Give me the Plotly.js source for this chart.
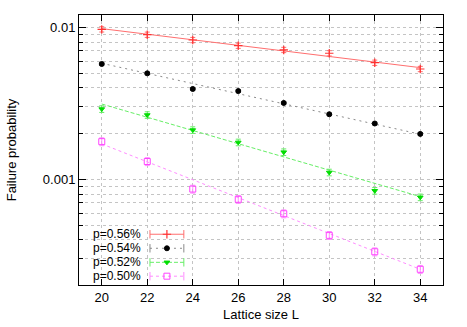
<!DOCTYPE html>
<html>
<head>
<meta charset="utf-8">
<script src="https://cdn.plot.ly/plotly-3.0.1.min.js"></script>
<style>html,body{margin:0;padding:0;background:#fff}#chart{width:467px;height:327px}</style>
</head>
<body>
<div id="chart"></div>
<script>
// ---- data ----
const latticeL = [20, 22, 24, 26, 28, 30, 32, 34];
const seriesNames = ['p=0.56%', 'p=0.54%', 'p=0.52%', 'p=0.50%'];
const p056 = [0.0097, 0.00894, 0.00825, 0.00757, 0.0071, 0.00675, 0.00585, 0.00532];
const p054 = [0.00574, 0.00498, 0.00393, 0.00381, 0.00318, 0.00268, 0.00233, 0.00199];
const p052 = [0.0029, 0.00265, 0.00211, 0.00175, 0.00151, 0.00111, 0.000841, 0.000762];
const p050 = [0.00177, 0.00131, 0.000863, 0.000739, 0.000594, 0.000428, 0.000334, 0.000256];
const errPct = [4, 2, 5, 6];
// fitted line values at L=20 and L=34
const fitStart = [0.0098, 0.0058, 0.00313, 0.00171];
const fitEnd = [0.00543, 0.00198, 0.00077, 0.000256];
const xTicks = [20, 22, 24, 26, 28, 30, 32, 34];
const yMajor = [0.001, 0.01];
const yMinor = [0.0003, 0.0004, 0.0005, 0.0006, 0.0007, 0.0008, 0.0009,
                0.002, 0.003, 0.004, 0.005, 0.006, 0.007, 0.008, 0.009];

// ---- styles ----
const allY = [p056, p054, p052, p050];
const markerColor = ['#ff3030', '#000000', '#00dd00', '#ff44ff'];
const lineColor = ['rgb(255,110,110)', '#8a8a8a', '#66ee66', '#ff8cff'];
const lineDash = ['solid', '2px,4px', '4px,2px', 'dot'];
const symbols = ['cross-thin-open', 'circle', 'triangle-down', 'square-open'];
const msize = [6, 5, 5, 6];
const mlw = [1.2, 1, 1, 1];

const traces = [];
allY.forEach((ys, i) => {
  traces.push({
    x: [latticeL[0], latticeL[latticeL.length - 1]],
    y: [fitStart[i], fitEnd[i]],
    mode: 'lines', type: 'scatter', showlegend: false, hoverinfo: 'skip',
    line: {color: lineColor[i], width: 1, dash: lineDash[i]}
  });
  traces.push({
    x: latticeL, y: ys, mode: 'markers', type: 'scatter', showlegend: false,
    marker: {symbol: symbols[i], size: msize[i], color: markerColor[i],
             line: {color: markerColor[i], width: mlw[i]}},
    error_y: {type: 'percent', value: errPct[i], color: lineColor[i], thickness: 1, width: 2.5}
  });
});

// legend keys drawn on an overlay axis pair (0..1 paper-like)
const keyRows = [0.188, 0.136, 0.084, 0.0326];
const keyX0 = 0.195, keyX1 = 0.288, keyXm = 0.2415;
const annotations = [];
seriesNames.forEach((nm, i) => {
  traces.push({
    x: [keyX0, keyX1], y: [keyRows[i], keyRows[i]], xaxis: 'x2', yaxis: 'y2',
    mode: 'lines+markers', type: 'scatter', showlegend: false, hoverinfo: 'skip',
    line: {color: lineColor[i], width: 1, dash: lineDash[i]},
    marker: {symbol: 'line-ns-open', size: 6, color: lineColor[i], line: {color: lineColor[i], width: 1}}
  });
  traces.push({
    x: [keyXm], y: [keyRows[i]], xaxis: 'x2', yaxis: 'y2',
    mode: 'markers', type: 'scatter', showlegend: false, hoverinfo: 'skip',
    marker: {symbol: symbols[i], size: msize[i], color: markerColor[i],
             line: {color: markerColor[i], width: mlw[i]}}
  });
  annotations.push({
    xref: 'paper', yref: 'paper', x: 0.172, y: keyRows[i], xanchor: 'right', yanchor: 'middle',
    text: nm, showarrow: false, font: {size: 12, color: '#000'}, borderpad: 0, valign: 'middle'
  });
});

const gridStyle = {gridcolor: '#c4c4c4', gridwidth: 1, griddash: 'dot'};
const layout = {
  width: 467, height: 327,
  margin: {l: 79, r: 24, t: 15, b: 42, pad: 0},
  paper_bgcolor: '#fff', plot_bgcolor: '#fff',
  font: {family: '"Liberation Sans", Arial, sans-serif', size: 13, color: '#000'},
  showlegend: false,
  xaxis: Object.assign({
    range: [19, 35], tickmode: 'array', tickvals: xTicks,
    ticks: 'inside', ticklen: 6, tickcolor: '#000', showline: true, linecolor: '#000', linewidth: 1,
    mirror: 'ticks', showgrid: true, zeroline: false,
    title: {text: 'Lattice size L', font: {size: 13}, standoff: 6}
  }, gridStyle),
  yaxis: Object.assign({
    type: 'log', range: [-3.695, -1.919], tickmode: 'array', tickvals: yMajor,
    ticktext: ['0.001', '0.01'],
    ticks: 'inside', ticklen: 7, tickcolor: '#000', showline: true, linecolor: '#000', linewidth: 1,
    mirror: 'ticks', showgrid: true, zeroline: false,
    minor: Object.assign({tickvals: yMinor, ticks: 'inside', ticklen: 4, tickcolor: '#000', showgrid: true}, gridStyle),
    title: {text: 'Failure probability', font: {size: 13}, standoff: 23}
  }, gridStyle),
  xaxis2: {overlaying: 'x', anchor: 'y2', range: [0, 1], visible: false, fixedrange: true},
  yaxis2: {overlaying: 'y', anchor: 'x2', range: [0, 1], visible: false, fixedrange: true},
  shapes: [{
    type: 'rect', xref: 'paper', yref: 'paper', x0: 0.002, x1: 0.294, y0: 0.002, y1: 0.211,
    fillcolor: '#fff', line: {width: 0}, layer: 'between'
  }],
  annotations: annotations
};

Plotly.newPlot('chart', traces, layout, {displayModeBar: false, staticPlot: true});
</script>
</body>
</html>
